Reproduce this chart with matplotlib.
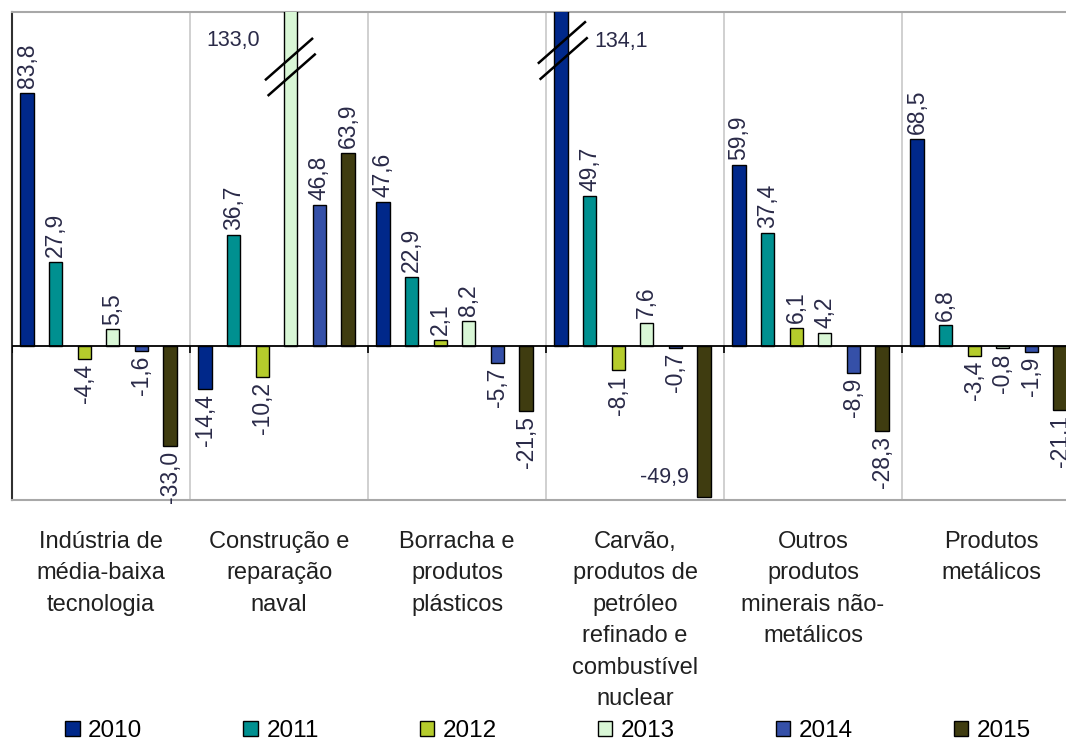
import matplotlib.pyplot as plt

plt.rcParams['font.family'] = ['Liberation Sans', 'DejaVu Sans']

categories = ["Indústria de\nmédia-baixa\ntecnologia",
              "Construção e\nreparação\nnaval",
              "Borracha e\nprodutos\nplásticos",
              "Carvão,\nprodutos de\npetróleo\nrefinado e\ncombustível\nnuclear",
              "Outros\nprodutos\nminerais não-\nmetálicos",
              "Produtos\nmetálicos"]
years = ["2010", "2011", "2012", "2013", "2014", "2015"]
v2010 = [83.8, -14.4, 47.6, 134.1, 59.9, 68.5]
v2011 = [27.9, 36.7, 22.9, 49.7, 37.4, 6.8]
v2012 = [-4.4, -10.2, 2.1, -8.1, 6.1, -3.4]
v2013 = [5.5, 133.0, 8.2, 7.6, 4.2, -0.8]
v2014 = [-1.6, 46.8, -5.7, -0.7, -8.9, -1.9]
v2015 = [-33.0, 63.9, -21.5, -49.9, -28.3, -21.1]
series = [v2010, v2011, v2012, v2013, v2014, v2015]
colors = ['#00288a', '#009090', '#b5cc2c', '#d9f7d6', '#3550a8', '#3f3c10']

fig = plt.figure(figsize=(10.66, 7.4), dpi=100)
ax = fig.add_axes([12/1066, 240/740, 1068/1066, 488/740])
ax.set_xlim(-0.5, 5.5)
ax.set_ylim(-51.0, 110.6)

lab_color = '#2a2a48'
rot_fs = 16.5
hor_fs = 15.5
offs = [(-74 + 28.6*j)/178 for j in range(6)]
bw = 0.074

for j, vals in enumerate(series):
    xs = [i + offs[j] for i in range(len(categories))]
    ax.bar(xs, vals, width=bw, color=colors[j], edgecolor='black',
           linewidth=1.0, label=years[j], zorder=3)
    for x, v in zip(xs, vals):
        txt = f"{v:.1f}".replace('.', ',')
        if v > 110:
            continue
        if v == -49.9:
            ax.text(x - 0.085, -43.7, txt, ha='right', va='center',
                    fontsize=hor_fs, color=lab_color)
            continue
        if v >= 0:
            ax.annotate(txt, (x, v), xytext=(0, 3.5), textcoords='offset points',
                        rotation=90, ha='center', va='bottom',
                        fontsize=rot_fs, color=lab_color, annotation_clip=False)
        else:
            ax.annotate(txt, (x, v), xytext=(0, -3.5), textcoords='offset points',
                        rotation=90, ha='center', va='top',
                        fontsize=rot_fs, color=lab_color, annotation_clip=False)

# broken (off-scale) bars: labels and break marks
xb1 = 1 + offs[3]
xb2 = 3 + offs[0]
ax.text(xb1 - 0.325, 101.3, "133,0", ha='center', va='center',
        fontsize=hor_fs, color=lab_color)
ax.text(xb2 + 0.335, 100.7, "134,1", ha='center', va='center',
        fontsize=hor_fs, color=lab_color)
for xc, yc in [(xb1 - 0.01, 95.0), (xb1 + 0.005, 89.8),
               (xb2 + 0.005, 100.5), (xb2 + 0.015, 95.2)]:
    ax.plot([xc - 0.135, xc + 0.135], [yc - 7.0, yc + 7.0],
            color='black', lw=1.8, zorder=5, solid_capstyle='butt')

# separators, zero line, ticks
for b in [0.5, 1.5, 2.5, 3.5, 4.5]:
    ax.axvline(b, color='#c8c8c8', lw=1.2, zorder=1)
ax.axhline(0, color='black', lw=1.3, zorder=4)
ax.vlines([-0.5, 0.5, 1.5, 2.5, 3.5, 4.5], -2.2, 0, color='black', lw=1.2, zorder=4)

for s in ['top', 'bottom']:
    ax.spines[s].set_color('#a8a8a8')
    ax.spines[s].set_linewidth(1.5)
ax.spines['left'].set_color('#303030')
ax.spines['left'].set_linewidth(1.5)
ax.spines['right'].set_visible(False)
ax.set_xticks([])
ax.set_yticks([])

for i, c in enumerate(categories):
    ax.text(i, -61.3, c, ha='center', va='top', fontsize=17,
            color='#202020', linespacing=1.55, clip_on=False)

leg = fig.legend(loc='center', bbox_to_anchor=(548/1066, 1 - 731/740), ncol=6,
                 frameon=False, fontsize=17.5, handlelength=0.6, handleheight=0.6,
                 handletextpad=0.35, columnspacing=4.15, borderaxespad=0)

fig.savefig('out.png', dpi=100)
